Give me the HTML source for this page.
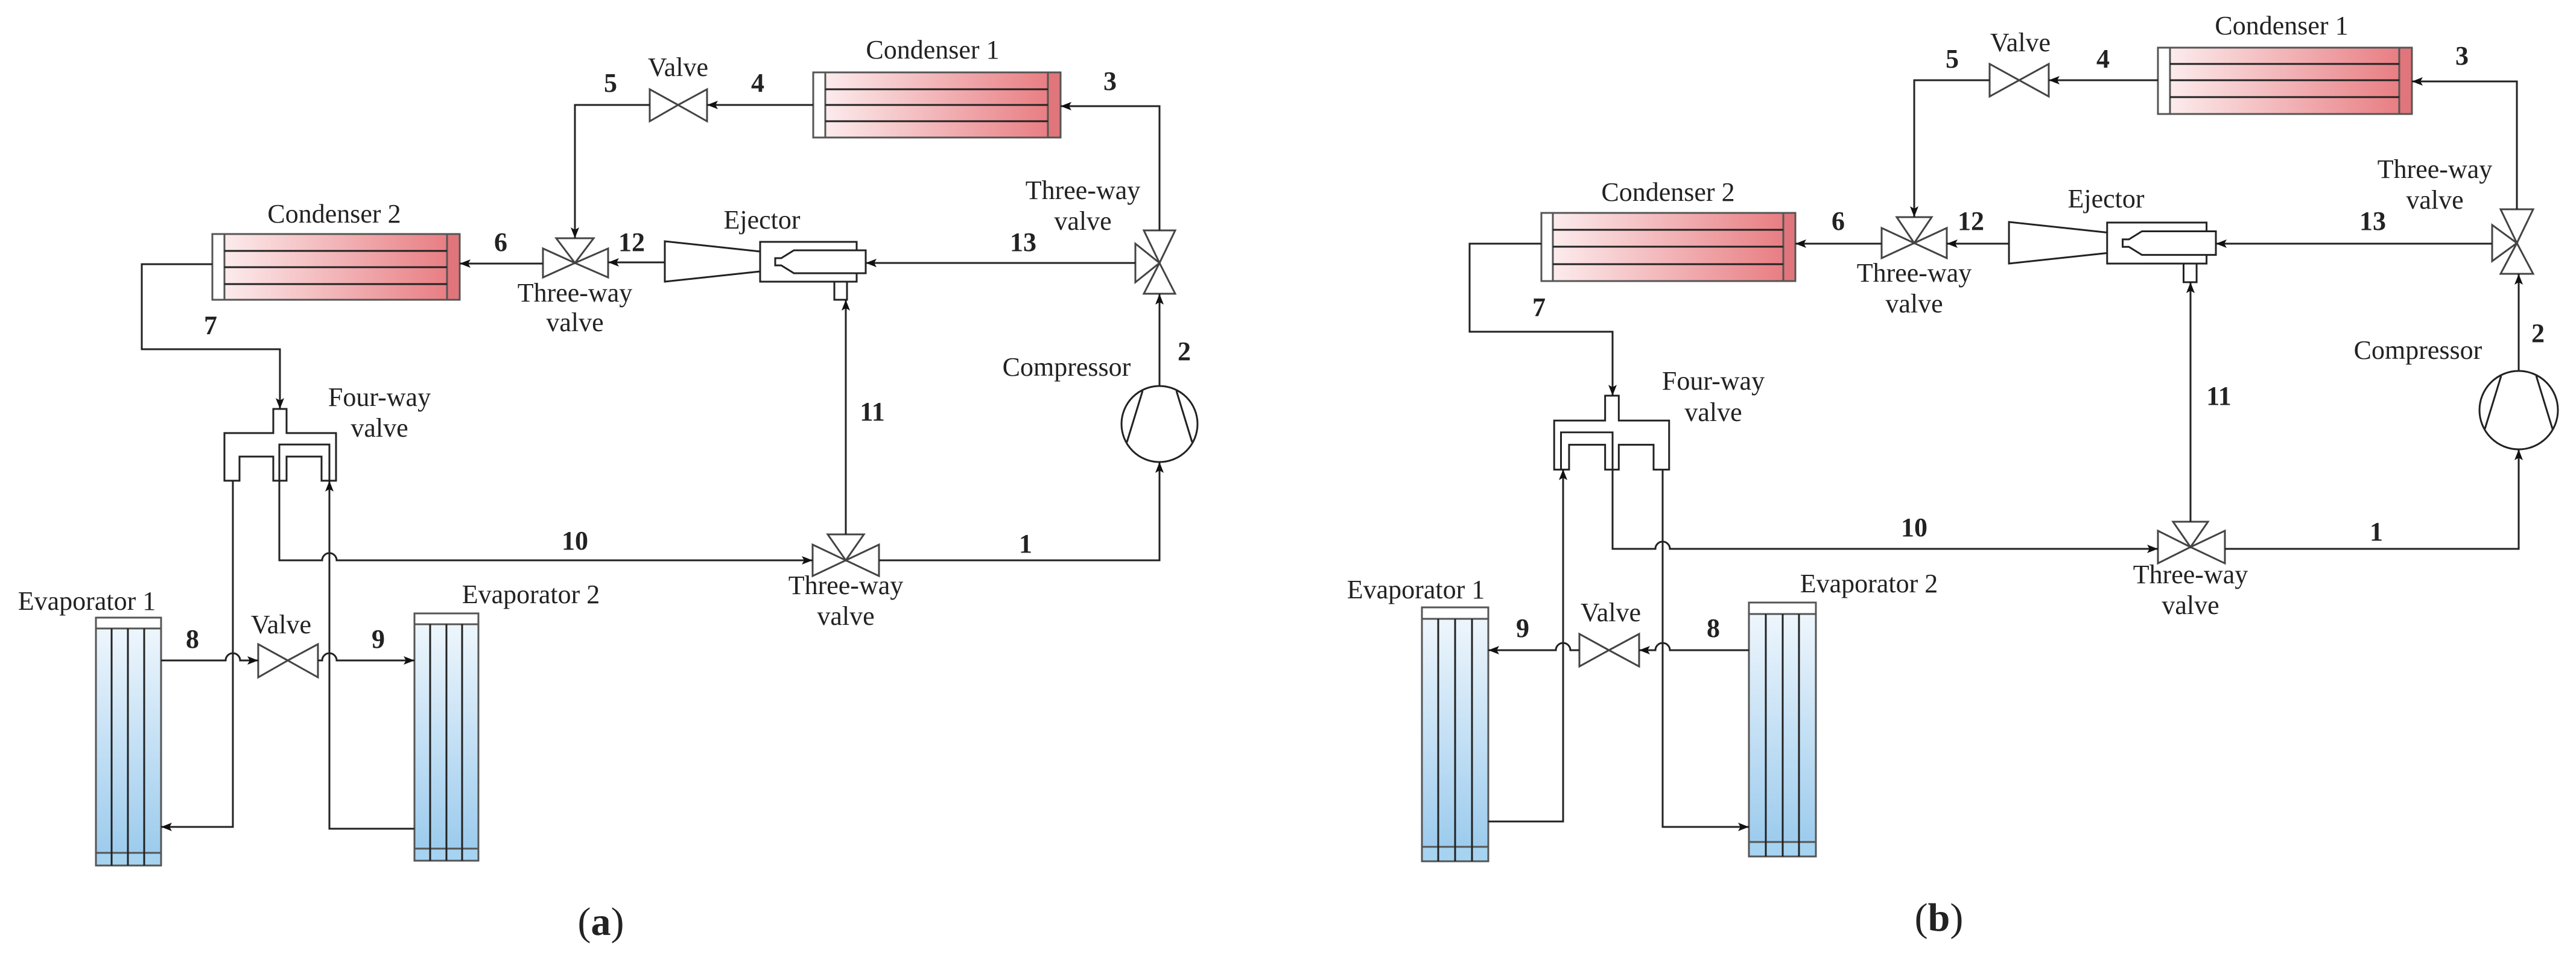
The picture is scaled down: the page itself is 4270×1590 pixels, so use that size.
<!DOCTYPE html>
<html><head><meta charset="utf-8"><style>
html,body{margin:0;padding:0;background:#fff;}
svg{display:block;}
svg text{font-family:"Liberation Serif","DejaVu Serif",serif;font-size:44px;fill:#222;}
.n{font-weight:bold;}
</style></head><body>
<svg width="4270" height="1590" viewBox="0 0 4270 1590" xmlns="http://www.w3.org/2000/svg" font-family="Liberation Serif, DejaVu Serif, serif">
<defs>
<marker id="ar" markerUnits="userSpaceOnUse" markerWidth="22" markerHeight="16" refX="18" refY="7" orient="auto">
<path d="M0,0 L18,7 L0,14 L4,7 Z" fill="#111"/></marker>
<linearGradient id="cg" x1="0" y1="0" x2="1" y2="0"><stop offset="0" stop-color="#fdf1f2"/><stop offset="1" stop-color="#e7787d"/></linearGradient>
<linearGradient id="eg" x1="0" y1="0" x2="0" y2="1"><stop offset="0" stop-color="#f2f8fd"/><stop offset="1" stop-color="#98c9ec"/></linearGradient>
</defs>
<g fill="none" stroke="#222" stroke-width="3">
<rect x="1348" y="120" width="410" height="108" fill="url(#cg)" stroke="#555"/>
<rect x="1348" y="120" width="20" height="108" fill="#fff" stroke="#555"/>
<rect x="1737" y="120" width="21" height="108" fill="#e0767b" stroke="#555"/>
<path d="M1368,148H1737M1368,174H1737M1368,201H1737"/>
<rect x="352" y="388" width="410" height="109" fill="url(#cg)" stroke="#555"/>
<rect x="352" y="388" width="20" height="109" fill="#fff" stroke="#555"/>
<rect x="741" y="388" width="21" height="109" fill="#e0767b" stroke="#555"/>
<path d="M372,416H741M372,443H741M372,471H741"/>
<rect x="159" y="1024" width="108" height="411" fill="url(#eg)" stroke="#555"/>
<rect x="159" y="1024" width="108" height="18" fill="#fff" stroke="#555"/>
<rect x="159" y="1414" width="108" height="21" fill="#a6d3f0" stroke="#555"/>
<path d="M185,1042V1435M212,1042V1435M239,1042V1435"/>
<rect x="687" y="1017" width="106" height="410" fill="url(#eg)" stroke="#555"/>
<rect x="687" y="1017" width="106" height="18" fill="#fff" stroke="#555"/>
<rect x="687" y="1407" width="106" height="20" fill="#a6d3f0" stroke="#555"/>
<path d="M713,1035V1427M740,1035V1427M766,1035V1427"/>
<path d="M1124,174L1077,148V201Z M1124,174L1172,148V201Z" fill="#fff" stroke="#444"/>
<path d="M477,1095L428,1068V1123Z M477,1095L527,1068V1123Z" fill="#fff" stroke="#444"/>
<path d="M953,436L922,395H984Z M953,436L900,412V460Z M953,436L1008,412V460Z" fill="#fff" stroke="#444"/>
<path d="M1922,436L1896,382H1948Z M1922,436L1896,487H1948Z M1922,436L1882,404V468Z" fill="#fff" stroke="#444"/>
<path d="M1402,929L1372,886H1432Z M1402,929L1347,903V955Z M1402,929L1457,903V955Z" fill="#fff" stroke="#444"/>
<circle cx="1922" cy="703" r="63" fill="#fff"/>
<path d="M1894,648L1868,733M1950,648L1976,733"/>
<g fill="#fff">
<path d="M1260,417L1102,400V467L1260,450Z"/>
<path d="M1260,417V401H1420V415M1420,453V467H1260V450" fill="none"/>
<path d="M1316,415H1435V453H1316L1295,440H1285V428H1295Z"/>
<path d="M1383,467V497H1404V467" fill="none"/>
</g>
<g>
<path d="M397,797H372V718H453V678H475V718H557V797H533V757H475V797H453V757H397Z" fill="#fff"/>
<path d="M463,797V737H546V797"/>
</g>
<path marker-end="url(#ar)" d="M1348,174H1172"/>
<path marker-end="url(#ar)" d="M1077,174H953V395"/>
<path marker-end="url(#ar)" d="M900,437H762"/>
<path marker-end="url(#ar)" d="M1102,435H1008"/>
<path marker-end="url(#ar)" d="M1882,436H1435"/>
<path marker-end="url(#ar)" d="M1922,382V176H1758"/>
<path marker-end="url(#ar)" d="M1922,640V487"/>
<path marker-end="url(#ar)" d="M1457,929H1922V766"/>
<path marker-end="url(#ar)" d="M1402,886V497"/>
<path marker-end="url(#ar)" d="M463,797V929H534a12,12 0 0 1 24,0H1347"/>
<path marker-end="url(#ar)" d="M352,438H235V579H464V678"/>
<path marker-end="url(#ar)" d="M267,1095H374a12,12 0 0 1 24,0H428"/>
<path marker-end="url(#ar)" d="M527,1095H534a12,12 0 0 1 24,0H687"/>
<path marker-end="url(#ar)" d="M386,797V1371H267"/>
<path marker-end="url(#ar)" d="M687,1374H546V797"/>

<rect x="3577" y="79" width="421" height="110" fill="url(#cg)" stroke="#555"/>
<rect x="3577" y="79" width="20" height="110" fill="#fff" stroke="#555"/>
<rect x="3977" y="79" width="21" height="110" fill="#e0767b" stroke="#555"/>
<path d="M3597,106H3977M3597,133H3977M3597,161H3977"/>
<rect x="2555" y="353" width="421" height="113" fill="url(#cg)" stroke="#555"/>
<rect x="2555" y="353" width="19" height="113" fill="#fff" stroke="#555"/>
<rect x="2956" y="353" width="20" height="113" fill="#e0767b" stroke="#555"/>
<path d="M2574,381H2956M2574,409H2956M2574,438H2956"/>
<rect x="2357" y="1007" width="110" height="421" fill="url(#eg)" stroke="#555"/>
<rect x="2357" y="1007" width="110" height="19" fill="#fff" stroke="#555"/>
<rect x="2357" y="1404" width="110" height="24" fill="#a6d3f0" stroke="#555"/>
<path d="M2384,1026V1428M2412,1026V1428M2440,1026V1428"/>
<rect x="2899" y="999" width="111" height="421" fill="url(#eg)" stroke="#555"/>
<rect x="2899" y="999" width="111" height="19" fill="#fff" stroke="#555"/>
<rect x="2899" y="1396" width="111" height="24" fill="#a6d3f0" stroke="#555"/>
<path d="M2927,1018V1420M2955,1018V1420M2982,1018V1420"/>
<path d="M3347,133L3298,106V160Z M3347,133L3396,106V160Z" fill="#fff" stroke="#444"/>
<path d="M2667,1078L2618,1051V1105Z M2667,1078L2717,1051V1105Z" fill="#fff" stroke="#444"/>
<path d="M3173,403L3144,360H3202Z M3173,403L3119,378V428Z M3173,403L3227,378V428Z" fill="#fff" stroke="#444"/>
<path d="M4172,403L4145,347H4199Z M4172,403L4145,454H4199Z M4172,403L4131,373V433Z" fill="#fff" stroke="#444"/>
<path d="M3631,907L3602,865H3660Z M3631,907L3577,880V934Z M3631,907L3688,880V934Z" fill="#fff" stroke="#444"/>
<circle cx="4175" cy="680" r="65" fill="#fff"/>
<path d="M4146,623L4119,711M4204,623L4231,711"/>
<g transform="matrix(1.03 0 0 1.03 2195 -44)" stroke-width="2.9">
<path d="M1260,417L1102,400V467L1260,450Z" fill="#fff"/>
<path d="M1260,417V401H1420V415M1420,453V467H1260V450"/>
<path d="M1316,415H1435V453H1316L1295,440H1285V428H1295Z" fill="#fff"/>
<path d="M1383,467V497H1404V467"/>
</g>
<g transform="matrix(-1.03 0 0 1.03 3149.9 -42.3)" stroke-width="2.9">
<path d="M397,797H372V718H453V678H475V718H557V797H533V757H475V797H453V757H397Z" fill="#fff"/>
<path d="M463,797V737H546V797"/>
</g>
<path marker-end="url(#ar)" d="M3577,133H3396"/>
<path marker-end="url(#ar)" d="M3298,133H3173V360"/>
<path marker-end="url(#ar)" d="M3119,404H2976"/>
<path marker-end="url(#ar)" d="M3330,404H3227"/>
<path marker-end="url(#ar)" d="M4131,404H3673"/>
<path marker-end="url(#ar)" d="M4172,347V135H3998"/>
<path marker-end="url(#ar)" d="M4175,615V454"/>
<path marker-end="url(#ar)" d="M3688,910H4175V745"/>
<path marker-end="url(#ar)" d="M3631,865V468"/>
<path marker-end="url(#ar)" d="M2673,778V910H2744a12,12 0 0 1 24,0H3577"/>
<path marker-end="url(#ar)" d="M2555,404H2436V550H2673V656"/>
<path marker-end="url(#ar)" d="M2618,1078H2603a12,12 0 0 0 -24,0H2467"/>
<path marker-end="url(#ar)" d="M2899,1078H2768a12,12 0 0 0 -24,0H2717"/>
<path marker-end="url(#ar)" d="M2467,1362H2591V778"/>
<path marker-end="url(#ar)" d="M2756,778V1371H2899"/>
</g>

<g text-anchor="middle">
<text x="1546" y="97">Condenser 1</text>
<text x="1124" y="126">Valve</text>
<text class="n" x="1012" y="152">5</text>
<text class="n" x="1256" y="152">4</text>
<text class="n" x="1840" y="149">3</text>
<text x="554" y="369">Condenser 2</text>
<text class="n" x="830" y="416">6</text>
<text class="n" x="1047" y="416">12</text>
<text x="953" y="500">Three-way</text>
<text x="953" y="549">valve</text>
<text x="1263" y="379">Ejector</text>
<text class="n" x="1696" y="416">13</text>
<text x="1795" y="330">Three-way</text>
<text x="1795" y="381">valve</text>
<text x="1768" y="623">Compressor</text>
<text class="n" x="1963" y="597">2</text>
<text class="n" x="1446" y="697">11</text>
<text class="n" x="349" y="554">7</text>
<text x="629" y="673">Four-way</text>
<text x="629" y="724">valve</text>
<text class="n" x="953" y="911">10</text>
<text class="n" x="1700" y="916">1</text>
<text x="1402" y="985">Three-way</text>
<text x="1402" y="1036">valve</text>
<text x="144" y="1011">Evaporator 1</text>
<text x="880" y="1000">Evaporator 2</text>
<text x="466" y="1050">Valve</text>
<text class="n" x="319" y="1074">8</text>
<text class="n" x="627" y="1074">9</text>
<text x="996" y="1550" style="font-size:66px">(<tspan font-weight="bold">a</tspan>)</text>
<text x="3782" y="57">Condenser 1</text>
<text x="3349" y="85">Valve</text>
<text class="n" x="3236" y="112">5</text>
<text class="n" x="3486" y="112">4</text>
<text class="n" x="4081" y="107">3</text>
<text x="2765" y="333">Condenser 2</text>
<text class="n" x="3047" y="381">6</text>
<text class="n" x="3267" y="381">12</text>
<text x="3173" y="467">Three-way</text>
<text x="3173" y="518">valve</text>
<text x="3491" y="344">Ejector</text>
<text class="n" x="3933" y="381">13</text>
<text x="4036" y="295">Three-way</text>
<text x="4036" y="346">valve</text>
<text x="4008" y="595">Compressor</text>
<text class="n" x="4207" y="567">2</text>
<text class="n" x="3678" y="671">11</text>
<text class="n" x="2551" y="524">7</text>
<text x="2840" y="646">Four-way</text>
<text x="2840" y="698">valve</text>
<text class="n" x="3173" y="889">10</text>
<text class="n" x="3939" y="896">1</text>
<text x="3631" y="967">Three-way</text>
<text x="3631" y="1018">valve</text>
<text x="2347" y="992">Evaporator 1</text>
<text x="3098" y="982">Evaporator 2</text>
<text x="2670" y="1030">Valve</text>
<text class="n" x="2524" y="1056">9</text>
<text class="n" x="2840" y="1056">8</text>
<text x="3214" y="1543" style="font-size:66px">(<tspan font-weight="bold">b</tspan>)</text>
</g>
</svg>
</body></html>
